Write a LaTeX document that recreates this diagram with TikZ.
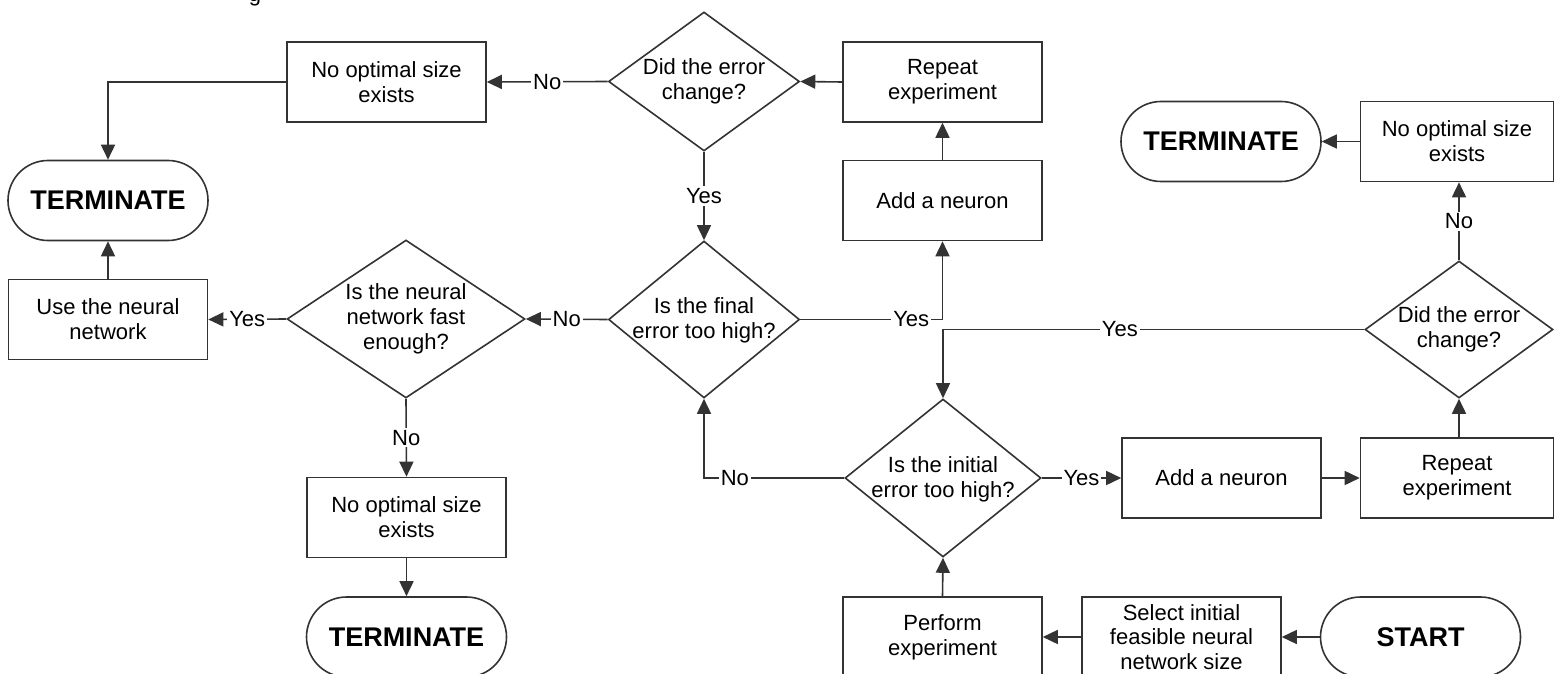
\documentclass[tikz,border=0pt]{standalone}
\usepackage{fontspec}
\setmainfont{Liberation Sans}
\usetikzlibrary{shapes.geometric,arrows.meta}
\begin{document}
\begin{tikzpicture}[x=0.5pt,y=-0.5pt,
  lc/.style={draw=black!80, line width=0.8pt},
  box/.style={lc, rectangle, minimum width=99.5pt, minimum height=40pt, inner sep=1pt, align=center, font=\fontsize{11}{12.4}\selectfont},
  term/.style={lc, rectangle, rounded corners=20pt, minimum width=100pt, minimum height=40pt, inner sep=0pt, font=\fontsize{13.5}{15}\selectfont\bfseries},
  dia/.style={lc, diamond, inner sep=0pt},
  dtext/.style={align=center, font=\fontsize{11}{12.4}\selectfont, inner sep=0pt},
  conn/.style={lc, -{Triangle[length=7.5pt,width=7pt]}},
  lbl/.style={fill=white, inner sep=1pt, font=\fontsize{11}{12.4}\selectfont},
]
\useasboundingbox (0,0) rectangle (1554,674);
\fill[white] (0,0) rectangle (1554,674);
\clip (0,0) rectangle (1554,674);

% fragment of text cut at top edge
\node[font=\fontsize{11}{12.4}\selectfont, anchor=base, inner sep=0pt] (gfrag) at (255,2) {g};

% top-left area
\node[term] (tTL) at (108,200.5) {TERMINATE};
\node[box] (nTL) at (386.5,82) {No optimal size\\exists};
\node[dia, minimum width=95.5pt, minimum height=69.5pt] (dTop) at (704,81.5) {};
\node[dtext] (dTopT) at (704,81.5) {Did the error\\change?};
\node[box] (rTop) at (942.5,82) {Repeat\\experiment};
\node[box] (aTop) at (942.5,200.5) {Add a neuron};

% middle row
\node[box] (uBox) at (108,319.5) {Use the neural\\network};
\node[dia, minimum width=119pt, minimum height=79pt] (dFast) at (406,319) {};
\node[dtext] (dFastT) at (406,319) {Is the neural\\network fast\\enough?};
\node[dia, minimum width=95.5pt, minimum height=78.5pt] (dFinal) at (704,319.5) {};
\node[dtext] (dFinalT) at (704,320) {Is the final\\error too high?};

% bottom-left
\node[box] (nBL) at (406.5,517.5) {No optimal size\\exists};
\node[term] (tBL) at (406.5,637) {TERMINATE};

% right side
\node[term] (tTR) at (1221,141.5) {TERMINATE};
\node[box, minimum width=96.5pt] (nTR) at (1457,141.5) {No optimal size\\exists};
\node[dia, minimum width=94pt, minimum height=68.5pt] (dRight) at (1459,329.5) {};
\node[dtext] (dRightT) at (1459,329.5) {Did the error\\change?};
\node[dia, minimum width=98pt, minimum height=79pt] (dInit) at (943,478) {};
\node[dtext] (dInitT) at (943,479) {Is the initial\\error too high?};
\node[box] (aBot) at (1221.5,478) {Add a neuron};
\node[box, minimum width=96.5pt] (rBot) at (1457,478) {Repeat\\experiment};

% bottom row
\node[box] (perf) at (942.5,637) {Perform\\experiment};
\node[box] (sel) at (1181.5,637) {Select initial\\feasible neural\\network size};
\node[term] (start) at (1420.5,637) {START};

% connectors
\draw[conn] (dTop.west) -- node[lbl] (l1) {No} (nTL.east);
\draw[conn] (nTL.west) -| (tTL.north);
\draw[conn] (rTop.west) -- (dTop.east);
\draw[conn] (aTop.north) -- (rTop.south);
\draw[conn] (dTop.south) -- node[lbl] (l2) {Yes} (dFinal.north);
\draw[conn] (dFinal.east) -| node[lbl, pos=0.39] (l3) {Yes} (aTop.south);
\draw[conn] (dFinal.west) -- node[lbl] (l4) {No} (dFast.east);
\draw[conn] (dFast.west) -- node[lbl] (l5) {Yes} (uBox.east);
\draw[conn] (uBox.north) -- (tTL.south);
\draw[conn] (dFast.south) -- node[lbl] (l6) {No} (nBL.north);
\draw[conn] (nBL.south) -- (tBL.north);
\draw[conn] (dInit.west) -| node[lbl, pos=0.39] (l7) {No} (dFinal.south);
\draw[conn] (dRight.west) -| node[lbl, pos=0.29] (l8) {Yes} (dInit.north);
\draw[conn] (dInit.east) -- node[lbl] (l9) {Yes} (aBot.west);
\draw[conn] (aBot.east) -- (rBot.west);
\draw[conn] (rBot.north -| dRight.south) -- (dRight.south);
\draw[conn] (dRight.north) -- node[lbl] (l10) {No} (dRight.north |- nTR.south);
\draw[conn] (nTR.west) -- (tTR.east);
\draw[conn] (start.west) -- (sel.east);
\draw[conn] (sel.west) -- (perf.east);
\draw[conn] (perf.north) -- (dInit.south);
\end{tikzpicture}
\end{document}
